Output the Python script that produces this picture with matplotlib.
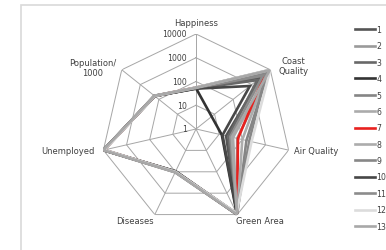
import matplotlib.pyplot as plt
import numpy as np

categories = ["Happiness", "Coast\nQuality", "Air Quality", "Green Area",
              "Diseases", "Unemployed", "Population/\n1000"]
series_names = [str(i) for i in range(1, 14)]

# one list per axis, one value per series (1..13); nan = missing cell
happiness = [52, 55, 50, 52, 54, 56, 55, 53, 52, 50, 54, 56, 55]
coast = [3000, 10000, 2000, np.nan, 8000, 9000, 5000, 7000, 6000, 800, 4000, 10000, 9500]
air = [20, 60, 25, 13, 150, 40, 65, 100, 200, 14, 30, 250, 35]
green = [10000, 9500, 10000, 9000, 10000, 9000, 9500, 10000, 9000, 10000, 9500, 8500, 10000]
diseases = [100, 100, 105, 95, 100, 100, 100, 105, 100, 95, 100, 100, 105]
unemployed = [10000, 9500, 10000, 10000, 9000, 10000, 9500, 10000, 9500, 10000, 10000, 9000, 10000]
population = [170, 175, 170, 165, 170, 175, 170, 170, 175, 170, 165, 170, 175]

colors = ["#555555", "#9a9a9a", "#686868", "#333333", "#858585", "#ababab", "#e8211e",
          "#acacac", "#878787", "#474747", "#8c8c8c", "#dcdcdc", "#a8a8a8"]

ring_values = [10, 100, 1000, 10000]
tick_values = [1, 10, 100, 1000, 10000]

data = np.array([happiness, coast, air, green, diseases, unemployed, population]).T
n = len(categories)
theta = np.arange(n) * 2 * np.pi / n

fig = plt.figure(figsize=(3.86, 2.51), dpi=100)
fig.add_artist(plt.Rectangle((21 / 386, -0.1), 1.0, 1 - 6 / 251 + 0.1,
                             transform=fig.transFigure, fill=False,
                             ec="#d9d9d9", lw=1.2))

ax = fig.add_axes([0.2617, 0.1036, 0.4922, 0.757], projection="polar")
ax.set_theta_zero_location("N")
ax.set_theta_direction(-1)
ax.set_rscale("log")
ax.set_rlim(1, 10000)
ax.grid(False)
ax.spines["polar"].set_visible(False)
ax.set_xticks([])
ax.set_yticks([])
ax.patch.set_visible(False)

grid_c = "#a6a6a6"
for rv in ring_values:
    ax.plot(np.append(theta, theta[0]), [rv] * (n + 1), color=grid_c, lw=0.7, zorder=1)
for t in theta:
    ax.plot([t, t], [1, 10000], color=grid_c, lw=0.7, zorder=1)

for i, row in enumerate(data):
    ok = ~np.isnan(row)
    th = theta[ok]
    rr = row[ok]
    ax.plot(np.append(th, th[0]), np.append(rr, rr[0]), color=colors[i],
            lw=1.9, label=series_names[i], zorder=2 + i, solid_joinstyle="miter")

txt_c = "#404040"
fs = 6
for tv in tick_values:
    ax.annotate(str(tv), xy=(0, tv), xytext=(-9, 0), textcoords="offset pixels",
                ha="right", va="center", fontsize=5.6, color=txt_c, zorder=30)

offsets = [(0, 11, "center"), (23, 4, "center"), (5, 0, "left"), (23, -6, "center"),
           (-20, -6, "center"), (-35, 0, "center"), (-29, 2, "center")]
for t, lab, (dx, dy, ha) in zip(theta, categories, offsets):
    ax.annotate(lab, xy=(t, 10000), xytext=(dx, dy), textcoords="offset pixels",
                ha=ha, va="center", fontsize=fs, color=txt_c, multialignment="center",
                annotation_clip=False)

leg = fig.legend(loc="upper left", bbox_to_anchor=(355 / 386, 1 - 26 / 251),
                 frameon=False, fontsize=5.6, handlelength=2.6, handletextpad=0.15,
                 labelspacing=0.95, borderpad=0, borderaxespad=0)
for txt in leg.get_texts():
    txt.set_color(txt_c)

fig.savefig("out.png", dpi=100)
